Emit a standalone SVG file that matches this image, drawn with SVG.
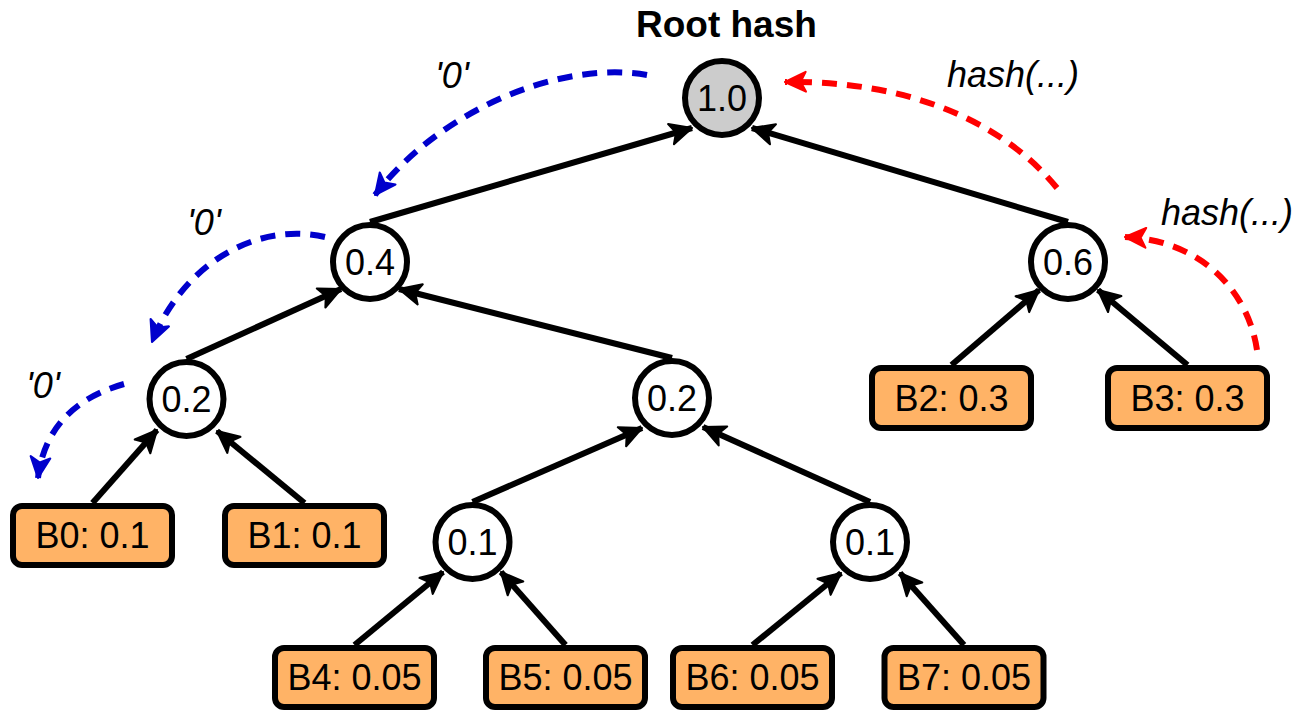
<svg xmlns="http://www.w3.org/2000/svg" width="1298" height="711" viewBox="0 0 1298 711">
  <style>
    .edge { fill: none; stroke: #000; stroke-width: 6; marker-end: url(#arrow-black); }
    .trail { fill: none; stroke-width: 6; stroke-dasharray: 15 10; }
    .trail.zero { stroke: #0000cc; marker-end: url(#arrow-blue); }
    .trail.hash { stroke: #ff0000; marker-end: url(#arrow-red); }
    .node circle { fill: #fff; stroke: #000; stroke-width: 6; }
    .node.root circle { fill: #cccccc; }
    .block rect { fill: #ffb366; stroke: #000; stroke-width: 6; }
    text { font-family: "Liberation Sans", Arial, Helvetica, sans-serif; font-size: 36px; fill: #000; }
    .node text, .block text { text-anchor: middle; }
    .title { font-weight: bold; font-size: 37px; }
    .note { font-style: italic; }
  </style>
  <defs>
    <marker id="arrow-black" markerUnits="userSpaceOnUse" markerWidth="26" markerHeight="26" viewBox="-23 -12 25 24" refX="0" refY="0" orient="auto">
      <path d="M0,0 L-21,-10 L-16,0 L-21,10 Z" fill="#000" stroke="#000" stroke-width="2" stroke-linejoin="round"/>
    </marker>
    <marker id="arrow-blue" markerUnits="userSpaceOnUse" markerWidth="26" markerHeight="26" viewBox="-23 -12 25 24" refX="0" refY="0" orient="auto">
      <path d="M0,0 L-20,-9.5 L-15,0 L-20,9.5 Z" fill="#0000cc" stroke="#0000cc" stroke-width="2" stroke-linejoin="round"/>
    </marker>
    <marker id="arrow-red" markerUnits="userSpaceOnUse" markerWidth="26" markerHeight="26" viewBox="-23 -12 25 24" refX="0" refY="0" orient="auto">
      <path d="M0,0 L-20,-9.5 L-15,0 L-20,9.5 Z" fill="#ff0000" stroke="#ff0000" stroke-width="2" stroke-linejoin="round"/>
    </marker>
  </defs>

  <rect width="1298" height="711" fill="#fff"/>

  <!-- tree edges: child -> parent -->
  <g id="connectors">
    <line class="edge" x1="370" y1="222" x2="692" y2="128"/>
    <line class="edge" x1="1068" y1="222" x2="752" y2="128"/>
    <line class="edge" x1="186.5" y1="359" x2="341" y2="289"/>
    <line class="edge" x1="672" y1="358" x2="399" y2="289"/>
    <line class="edge" x1="92.5" y1="503" x2="157" y2="430"/>
    <line class="edge" x1="304.5" y1="503" x2="217" y2="431"/>
    <line class="edge" x1="472.5" y1="502" x2="642" y2="428"/>
    <line class="edge" x1="870" y1="502" x2="703" y2="427"/>
    <line class="edge" x1="354.5" y1="645" x2="443" y2="572"/>
    <line class="edge" x1="565.5" y1="645" x2="501" y2="572"/>
    <line class="edge" x1="752.5" y1="645" x2="841" y2="573"/>
    <line class="edge" x1="964" y1="645" x2="900" y2="573"/>
    <line class="edge" x1="951.5" y1="365" x2="1039" y2="290"/>
    <line class="edge" x1="1187.5" y1="365" x2="1098" y2="290"/>

    <!-- descent path: '0' at every level -->
    <path class="trail zero" d="M647,75 C560,60 440,110 375,195"/>
    <path class="trail zero" d="M325,237 C260,222 185,260 152,342"/>
    <path class="trail zero" d="M124,384 C85,395 45,420 38,478"/>

    <!-- hash path back up to the root -->
    <path class="trail hash" d="M1257,350 C1248,290 1200,240 1125,237"/>
    <path class="trail hash" d="M1057,188 C1010,130 920,80 785,82"/>
  </g>

  <g id="labels">
    <text class="title" x="636" y="37">Root hash</text>
    <text class="note" x="435" y="88">'0'</text>
    <text class="note" x="187" y="235">'0'</text>
    <text class="note" x="26" y="398">'0'</text>
    <text class="note" x="947" y="87">hash(...)</text>
    <text class="note" x="1161" y="225">hash(...)</text>
  </g>

  <!-- inner nodes -->
  <g id="n-root" class="node root"><circle cx="722" cy="98" r="37"/><text x="722" y="111">1.0</text></g>
  <g id="n-04" class="node"><circle cx="370" cy="262" r="37"/><text x="370" y="275">0.4</text></g>
  <g id="n-06" class="node"><circle cx="1068" cy="262" r="37"/><text x="1068" y="275">0.6</text></g>
  <g id="n-02a" class="node"><circle cx="186.5" cy="399" r="37"/><text x="186.5" y="412">0.2</text></g>
  <g id="n-02b" class="node"><circle cx="672" cy="398" r="37"/><text x="672" y="411">0.2</text></g>
  <g id="n-01a" class="node"><circle cx="472.5" cy="542" r="37"/><text x="472.5" y="555">0.1</text></g>
  <g id="n-01b" class="node"><circle cx="870" cy="542" r="37"/><text x="870" y="555">0.1</text></g>

  <!-- leaf blocks -->
  <g id="b0" class="block"><rect x="13" y="506" width="159" height="59" rx="9"/><text x="92.5" y="548">B0: 0.1</text></g>
  <g id="b1" class="block"><rect x="225" y="506" width="159" height="59" rx="9"/><text x="304.5" y="548">B1: 0.1</text></g>
  <g id="b2" class="block"><rect x="872" y="368" width="159" height="60" rx="9"/><text x="951.5" y="411">B2: 0.3</text></g>
  <g id="b3" class="block"><rect x="1108" y="368" width="159" height="60" rx="9"/><text x="1187.5" y="411">B3: 0.3</text></g>
  <g id="b4" class="block"><rect x="275" y="648" width="159" height="59" rx="9"/><text x="354.5" y="690">B4: 0.05</text></g>
  <g id="b5" class="block"><rect x="486" y="648" width="159" height="59" rx="9"/><text x="565.5" y="690">B5: 0.05</text></g>
  <g id="b6" class="block"><rect x="673" y="648" width="159" height="59" rx="9"/><text x="752.5" y="690">B6: 0.05</text></g>
  <g id="b7" class="block"><rect x="884.5" y="648" width="159" height="59" rx="9"/><text x="964" y="690">B7: 0.05</text></g>
</svg>
